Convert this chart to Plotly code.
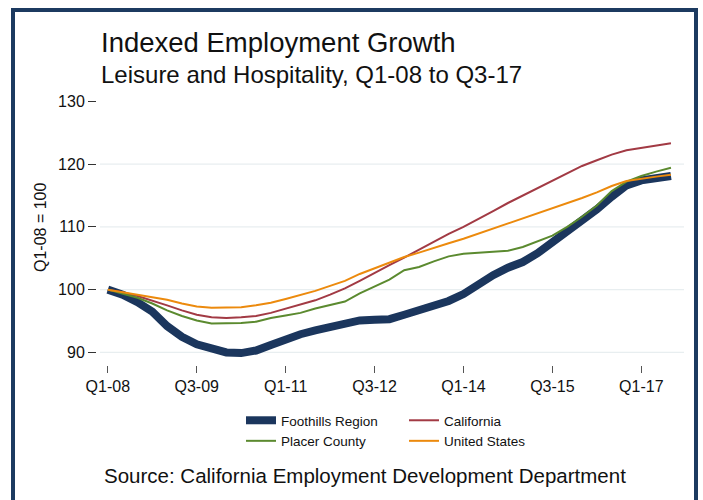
import plotly.graph_objects as go

# Quarter labels Q1-08 .. Q3-17
QUARTERS = [f"Q{q}-{y:02d}" for y in range(8, 18) for q in range(1, 5)][:39]
X_TICKS = ["Q1-08", "Q3-09", "Q1-11", "Q3-12", "Q1-14", "Q3-15", "Q1-17"]
Y_TICKS = [90, 100, 110, 120, 130]
GRID_LINES = [90, 100, 110, 120]

# Indexed employment (Q1-08 = 100)
FOOTHILLS = [100.0, 99.2, 98.0, 96.5, 94.2, 92.5, 91.3, 90.5, 90.0, 89.9,
             90.3, 91.2, 92.2, 92.9, 93.5, 94.0, 94.6, 95.1, 95.2, 95.3,
             96.0, 96.7, 97.4, 98.2, 99.3, 100.9, 102.3, 103.5, 104.4, 105.8,
             107.5, 109.3, 111.1, 112.8, 114.8, 116.6, 117.4, 117.8, 118.1]
CALIFORNIA = [100.0, 99.6, 99.0, 98.3, 97.5, 96.7, 96.0, 95.6, 95.5, 95.6,
              95.8, 96.3, 97.0, 97.6, 98.3, 99.2, 100.2, 101.4, 102.7, 103.9,
              105.1, 106.4, 107.7, 108.9, 110.0, 111.2, 112.5, 113.8, 115.0, 116.2,
              117.4, 118.6, 119.7, 120.6, 121.5, 122.2, 122.6, 122.9, 123.3]
PLACER = [100.0, 99.4, 98.7, 97.8, 96.7, 95.8, 95.1, 94.6, 94.6, 94.7,
          94.9, 95.5, 95.9, 96.3, 97.0, 97.6, 98.1, 99.4, 100.5, 101.6,
          103.1, 103.6, 104.5, 105.3, 105.7, 105.9, 106.0, 106.2, 106.8, 107.7,
          108.6, 110.0, 111.6, 113.4, 115.7, 117.2, 118.1, 118.8, 119.4]
UNITED_STATES = [100.0, 99.6, 99.2, 98.9, 98.4, 97.8, 97.3, 97.1, 97.1, 97.2,
                 97.5, 97.9, 98.5, 99.1, 99.8, 100.6, 101.4, 102.5, 103.4, 104.3,
                 105.2, 105.9, 106.7, 107.4, 108.1, 108.9, 109.8, 110.6, 111.4, 112.2,
                 113.0, 113.8, 114.6, 115.5, 116.5, 117.3, 117.7, 118.0, 118.3]

NAVY = "#1b365d"
RED = "#a23a44"
GREEN = "#5b8a2f"
ORANGE = "#ec8a0d"
FONT = "Liberation Sans, Arial, Helvetica, sans-serif"

W, H = 703, 500
ML, MR, MT, MB = 97, 19, 95, 135
PW, PH = W - ML - MR, H - MT - MB


def px_x(x):
    return (x - ML) / PW


def px_y(y):
    return (H - MB - y) / PH


fig = go.Figure()
fig.add_trace(go.Scatter(x=QUARTERS, y=FOOTHILLS, mode="lines", name="Foothills Region",
                         line=dict(color=NAVY, width=8), legend="legend"))
fig.add_trace(go.Scatter(x=QUARTERS, y=CALIFORNIA, mode="lines", name="California",
                         line=dict(color=RED, width=2), legend="legend2"))
fig.add_trace(go.Scatter(x=QUARTERS, y=PLACER, mode="lines", name="Placer County",
                         line=dict(color=GREEN, width=2), legend="legend"))
fig.add_trace(go.Scatter(x=QUARTERS, y=UNITED_STATES, mode="lines", name="United States",
                         line=dict(color=ORANGE, width=2), legend="legend2"))

shapes = [
    dict(type="line", xref="paper", yref="y", x0=0.005, x1=1, y0=g, y1=g,
         line=dict(color="#e8eef0", width=1.2), layer="below")
    for g in GRID_LINES
]
# outer frame
shapes.append(dict(type="rect", xref="paper", yref="paper",
                   x0=px_x(13), x1=px_x(696), y0=px_y(515), y1=px_y(10),
                   line=dict(color="#1c3a60", width=4), fillcolor="rgba(0,0,0,0)"))

annotations = [
    dict(text="Indexed Employment Growth", xref="paper", yref="paper",
         x=px_x(99), y=px_y(42), xanchor="left", yanchor="middle", showarrow=False,
         font=dict(family=FONT, size=27.5, color="#111111")),
    dict(text="Leisure and Hospitality, Q1-08 to Q3-17", xref="paper", yref="paper",
         x=px_x(99), y=px_y(74), xanchor="left", yanchor="middle", showarrow=False,
         font=dict(family=FONT, size=24, color="#111111")),
    dict(text="Source: California Employment Development Department", xref="paper", yref="paper",
         x=px_x(102), y=px_y(475), xanchor="left", yanchor="middle", showarrow=False,
         font=dict(family=FONT, size=20.5, color="#111111")),
    dict(text="Q1-08 = 100", xref="paper", yref="paper", textangle=-90,
         x=px_x(40), y=px_y(227), xanchor="center", yanchor="middle", showarrow=False,
         font=dict(family=FONT, size=16, color="#111111")),
]

legend_style = dict(orientation="v", xanchor="left", yanchor="top",
                    font=dict(family=FONT, size=13.5, color="#111111"),
                    bgcolor="rgba(0,0,0,0)", borderwidth=0, tracegroupgap=0)

fig.update_layout(
    width=W, height=H,
    margin=dict(l=ML, r=MR, t=MT, b=MB),
    paper_bgcolor="white", plot_bgcolor="white",
    font=dict(family=FONT, color="#111111"),
    xaxis=dict(type="category", range=[-0.73, 38.88], tickmode="array",
               tickvals=X_TICKS, ticktext=X_TICKS, ticks="outside", ticklen=7,
               tickcolor="#555555", tickwidth=1, showgrid=False, zeroline=False,
               showline=False, tickfont=dict(family=FONT, size=16, color="#111111")),
    yaxis=dict(range=[88, 131], tickmode="array", tickvals=Y_TICKS,
               ticks="outside", ticklen=8, tickcolor="#333333", tickwidth=1,
               showgrid=False, zeroline=False, showline=False,
               tickfont=dict(family=FONT, size=16, color="#111111")),
    legend=dict(x=px_x(241), y=px_y(405), **legend_style),
    legend2=dict(x=px_x(404), y=px_y(405), **legend_style),
    shapes=shapes,
    annotations=annotations,
)

fig.write_html("out.html")
